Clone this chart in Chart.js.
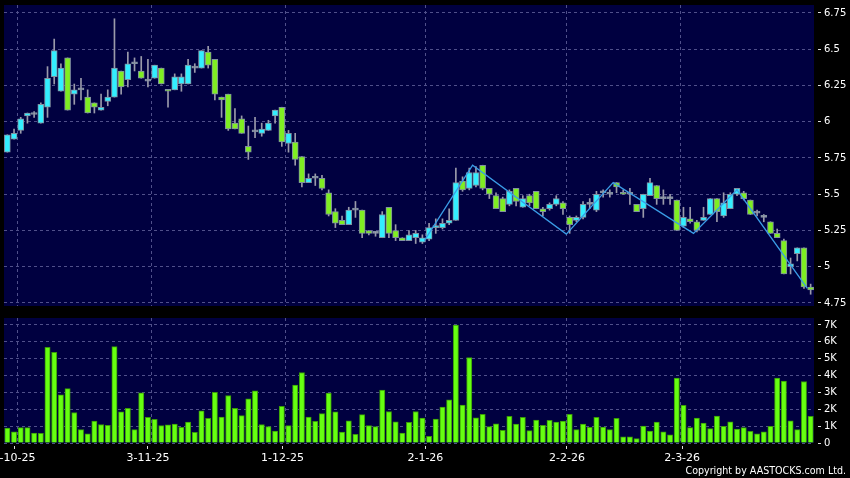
<!DOCTYPE html>
<html><head><meta charset="utf-8">
<script src="https://cdn.jsdelivr.net/npm/chart.js@4.4.1/dist/chart.umd.min.js"></script>
<style>
html,body{margin:0;padding:0;background:#000;width:850px;height:478px;overflow:hidden}
#p{position:absolute;left:0;top:0}
#v{position:absolute;left:0;top:310px}
#copy{position:absolute;right:4px;top:464px;color:#fff;font-family:'DejaVu Sans Condensed','DejaVu Sans',sans-serif;font-size:10.6px;font-stretch:condensed;white-space:nowrap}
</style></head><body>
<canvas id="p" width="850" height="310"></canvas>
<canvas id="v" width="850" height="168"></canvas>
<div id="copy">Copyright by AASTOCKS.com Ltd.</div>
<script>
// ---------------- data ----------------
const openP = [5.79,5.88,5.94,6.04,6.05,5.99,6.10,6.31,6.21,6.44,
6.19,6.22,6.17,6.13,6.08,6.14,6.17,6.35,6.29,6.40,
6.35,6.28,6.30,6.37,6.22,6.22,6.26,6.26,6.37,6.37,
6.48,6.43,6.17,6.19,5.99,6.02,5.83,5.93,5.92,5.94,
6.04,6.10,5.85,5.86,5.76,5.58,5.61,5.61,5.51,5.38,
5.32,5.29,5.39,5.39,5.25,5.23,5.20,5.41,5.25,5.20,
5.18,5.20,5.17,5.19,5.27,5.27,5.30,5.32,5.59,5.54,
5.56,5.70,5.54,5.49,5.47,5.43,5.54,5.41,5.49,5.52,
5.40,5.40,5.43,5.44,5.34,5.32,5.34,5.43,5.39,5.51,
5.50,5.58,5.51,5.50,5.43,5.40,5.49,5.56,5.47,5.47,
5.46,5.28,5.33,5.31,5.32,5.36,5.47,5.35,5.40,5.50,
5.51,5.46,5.37,5.34,5.31,5.23,5.18,5.00,5.09,5.13,
4.86];
const highP = [5.91,5.95,6.03,6.06,6.07,6.13,6.38,6.57,6.40,6.44,
6.26,6.30,6.22,6.13,6.19,6.22,6.71,6.35,6.48,6.44,
6.45,6.43,6.39,6.37,6.22,6.33,6.33,6.43,6.40,6.49,
6.52,6.43,6.17,6.19,6.09,6.04,5.97,6.03,5.99,6.01,
6.08,6.10,5.94,5.92,5.76,5.64,5.64,5.63,5.53,5.40,
5.35,5.41,5.45,5.39,5.25,5.24,5.38,5.41,5.29,5.20,
5.25,5.25,5.22,5.30,5.33,5.33,5.40,5.68,5.62,5.68,
5.69,5.70,5.54,5.51,5.48,5.53,5.54,5.49,5.50,5.52,
5.41,5.44,5.49,5.45,5.35,5.35,5.45,5.47,5.52,5.53,
5.53,5.58,5.53,5.54,5.43,5.50,5.61,5.56,5.53,5.50,
5.46,5.41,5.41,5.32,5.41,5.47,5.47,5.51,5.51,5.54,
5.52,5.46,5.39,5.36,5.31,5.26,5.19,5.06,5.13,5.13,
4.88];
const lowP = [5.79,5.88,5.92,5.99,6.03,5.99,6.03,6.26,6.21,6.08,
6.12,6.15,6.06,6.06,6.08,6.11,6.17,6.19,6.24,6.35,
6.30,6.24,6.30,6.26,6.10,6.22,6.21,6.26,6.34,6.37,
6.37,6.15,6.03,5.94,5.95,5.92,5.74,5.89,5.90,5.94,
5.99,5.83,5.79,5.70,5.55,5.58,5.56,5.53,5.35,5.27,
5.29,5.29,5.34,5.20,5.22,5.21,5.20,5.20,5.18,5.18,
5.18,5.16,5.16,5.18,5.23,5.26,5.29,5.32,5.52,5.53,
5.55,5.53,5.47,5.40,5.38,5.42,5.42,5.41,5.42,5.40,
5.35,5.39,5.42,5.36,5.23,5.31,5.33,5.40,5.38,5.48,
5.48,5.51,5.50,5.43,5.38,5.34,5.49,5.43,5.43,5.43,
5.25,5.27,5.30,5.24,5.32,5.36,5.31,5.34,5.40,5.49,
5.46,5.36,5.35,5.31,5.23,5.20,4.95,4.95,5.04,4.85,
4.81];
const closeP = [5.91,5.92,6.02,6.06,6.05,6.12,6.30,6.49,6.37,6.08,
6.22,6.22,6.06,6.10,6.10,6.17,6.37,6.24,6.40,6.40,
6.30,6.28,6.39,6.26,6.21,6.31,6.31,6.39,6.37,6.49,
6.39,6.19,6.15,5.95,5.95,5.92,5.79,5.93,5.95,5.99,
6.08,5.86,5.92,5.74,5.58,5.61,5.61,5.54,5.36,5.30,
5.29,5.39,5.39,5.23,5.23,5.23,5.36,5.23,5.20,5.18,
5.22,5.23,5.20,5.27,5.28,5.30,5.32,5.58,5.53,5.65,
5.65,5.54,5.50,5.40,5.38,5.52,5.45,5.47,5.44,5.40,
5.38,5.43,5.47,5.40,5.29,5.34,5.43,5.43,5.50,5.51,
5.50,5.55,5.50,5.50,5.38,5.50,5.58,5.47,5.47,5.47,
5.25,5.34,5.31,5.25,5.34,5.47,5.38,5.44,5.50,5.54,
5.47,5.36,5.37,5.34,5.23,5.20,4.95,5.02,5.13,4.86,
4.84];
const volume = [890,670,910,910,590,570,5680,5380,2860,3230,
1810,790,550,1300,1100,1050,5720,1850,2050,790,
2980,1520,1400,1030,1080,1120,930,1240,630,1910,
1460,3000,1540,2820,2050,1620,2620,3100,1100,970,
710,2170,1030,3430,4180,1540,1280,1740,2960,1850,
650,1320,510,1680,1030,970,3140,1870,1260,590,
1220,1870,1480,390,1420,2130,2560,7000,2250,5070,
1500,1700,970,1140,750,1580,1120,1520,730,1360,
1050,1340,1240,1300,1700,790,1120,930,1520,950,
790,1460,360,370,260,1010,710,1240,670,490,
3850,2230,910,1480,1180,850,1600,990,1260,830,
910,690,550,670,990,3850,3670,1320,790,3650,
1580];
// zig-zag indicator vertices (bar index, price)
const zigIndex = [62.3, 69.5, 83.5, 90.5, 102.5, 109, 119.5];
const zigPrice = [5.18, 5.70, 5.225, 5.58, 5.23, 5.53, 4.85];
// axis ticks
const dateLabels = ['6-10-25','3-11-25','1-12-25','2-1-26','2-2-26','2-3-26'];
const dateIndex  = [1, 21, 41, 62, 83, 100];
const priceTicks = [4.75,5,5.25,5.5,5.75,6,6.25,6.5,6.75];
const volTicks   = [0,1000,2000,3000,4000,5000,6000,7000];

// ---------------- layout / style ----------------
const N = closeP.length;
const NAVY = '#000040', GRID = '#50508a';
const UP = '#33eeff', DOWN = '#7fee22', FLAT = '#a0a0b0';
const gridPos = dateIndex.map(i => i + 0.5);
const labelPos = [1, 21, 41.1, 62.45, 83.6, 100.8];
const XMIN = -0.5, XMAX = N - 0.5;

const bg = {id:'bg', beforeDraw(c){const {ctx, chartArea:a}=c; ctx.save(); ctx.fillStyle='#000'; ctx.fillRect(0,0,c.width,c.height); ctx.fillStyle=NAVY; ctx.fillRect(a.left,a.top,a.right-a.left,a.bottom-a.top); ctx.restore();}};

const idx = Array.from({length:N}, (_, i) => i);
const candleColor = i => closeP[i] > openP[i] ? UP : (closeP[i] < openP[i] ? DOWN : FLAT);

const gridAxis = () => ({
  type:'linear', min:XMIN, max:XMAX, offset:false, position:'bottom',
  afterBuildTicks(s){ s.ticks = gridPos.map(v => ({value:v})); },
  afterFit(s){ s.height = 0; s.paddingLeft = 0; s.paddingRight = 0; },
  ticks:{display:false},
  grid:{color:GRID, lineWidth:1, drawTicks:false, offset:false},
  border:{display:false, dash:[3,3]}
});

const yTickCommon = {color:'#ffffff', font:{family:'DejaVu Sans', size:10}, padding:3};

new Chart(document.getElementById('p'), {
  type:'bar',
  data:{datasets:[
    {type:'line', data: zigIndex.map((x,k)=>({x, y:zigPrice[k]})), borderColor:'#3a9ce6', borderWidth:1.3, pointRadius:0, tension:0, order:0},
    {data: idx.map(i=>({x:i, y:[openP[i], closeP[i]]})), backgroundColor: c=>candleColor(c.dataIndex),
      borderColor:'#8090a0', borderWidth:1, borderSkipped:false, barThickness:6, minBarLength:2, grouped:false, order:1},
    {data: idx.map(i=>({x:i, y:[lowP[i], highP[i]]})), backgroundColor:'#9a9aaa', borderWidth:0, barThickness:1, grouped:false, order:2}
  ]},
  options:{
    responsive:false, devicePixelRatio:1, animation:false, events:[],
    layout:{padding:{left:4, top:5, right:0, bottom:4}},
    plugins:{legend:{display:false}, tooltip:{enabled:false}},
    scales:{
      x: gridAxis(),
      y:{position:'right', min:4.729, max:6.805,
        afterBuildTicks(s){ s.ticks = priceTicks.map(v=>({value:v})); },
        afterFit(s){ s.width = 36; s.paddingTop = 0; s.paddingBottom = 0; },
        ticks:{...yTickCommon, callback:v=>String(v)},
        grid:{color:GRID, tickColor:'#dddddd', tickLength:7, tickBorderDash:[3,4], tickBorderDashOffset:3},
        border:{display:false, dash:[3,3]}}
    }
  },
  plugins:[bg]
});

new Chart(document.getElementById('v'), {
  type:'bar',
  data:{datasets:[
    {data: idx.map(i=>({x:i, y:volume[i]})), backgroundColor:'#66ff11', borderColor:'#3a9a08', borderWidth:1, barThickness:5.3, order:0}
  ]},
  options:{
    responsive:false, devicePixelRatio:1, animation:false, events:[],
    layout:{padding:{left:4, top:8, right:0, bottom:0}},
    plugins:{legend:{display:false}, tooltip:{enabled:false}},
    scales:{
      xg: gridAxis(),
      x:{type:'linear', min:XMIN, max:XMAX, offset:false, position:'bottom',
        afterBuildTicks(s){ s.ticks = labelPos.map(v=>({value:v})); },
        afterFit(s){ s.height = 35; s.paddingLeft = 0; s.paddingRight = 0; },
        ticks:{color:'#ffffff', font:{family:'DejaVu Sans', size:11}, padding:3, maxRotation:0, autoSkip:false,
          callback:(v, k)=>dateLabels[k]},
        grid:{drawOnChartArea:false, offset:false, tickColor:'#dddddd', tickLength:6, tickBorderDash:[3,3], tickBorderDashOffset:3},
        border:{display:false}},
      y:{position:'right', min:0, max:7415,
        afterBuildTicks(s){ s.ticks = volTicks.map(v=>({value:v})); },
        afterFit(s){ s.width = 36; s.paddingTop = 0; s.paddingBottom = 0; },
        ticks:{...yTickCommon, callback:v=> v===0 ? '0' : (v/1000)+'K'},
        grid:{color:GRID, tickColor:'#dddddd', tickLength:7, tickBorderDash:[3,4], tickBorderDashOffset:3},
        border:{display:false, dash:[3,3]}}
    }
  },
  plugins:[bg]
});
</script>
</body></html>
